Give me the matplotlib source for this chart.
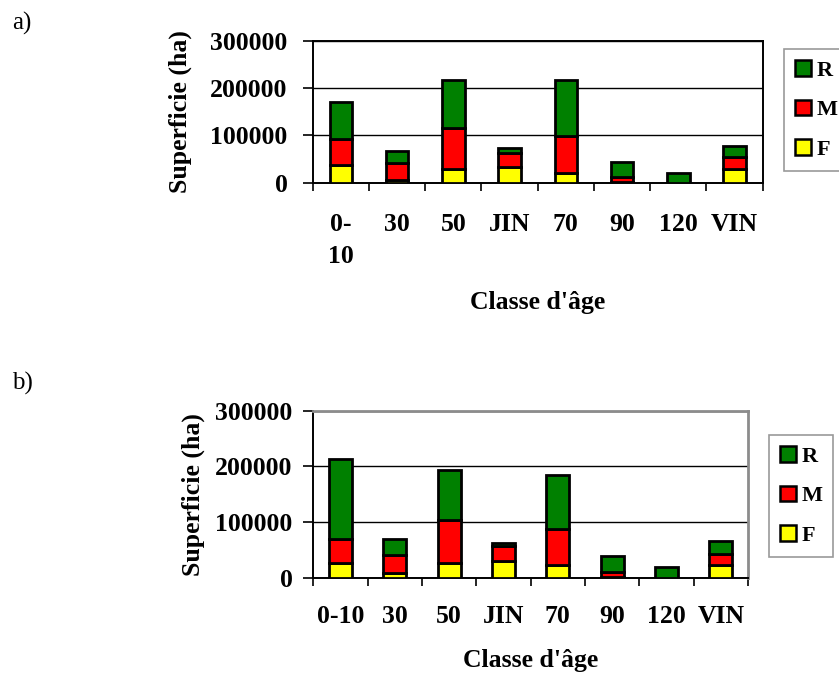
import numpy as np
import matplotlib
matplotlib.use("Agg")
import matplotlib.pyplot as plt

# Data (surface in ha per age class)
classes_a = ["0-\n10", "30", "50", "JIN", "70", "90", "120", "VIN"]
classes_b = ["0-10", "30", "50", "JIN", "70", "90", "120", "VIN"]

# panel a) per-layer values (F bottom, M middle, R top)
F_a = [37000, 6000, 28000, 33000, 20000, 1000, 0, 28000]
M_a = [56000, 35000, 87000, 30000, 78000, 12000, 0, 27000]
R_a = [78000, 27000, 103000, 10000, 120000, 30000, 21000, 22000]

# panel b)
F_b = [27000, 8000, 27000, 30000, 23000, 2000, 0, 22000]
M_b = [42000, 32000, 77000, 27000, 64000, 9000, 0, 20000]
R_b = [145000, 29000, 89000, 5000, 97000, 28000, 20000, 24000]

yticks = [0, 100000, 200000, 300000]
colors = {"F": "#FFFF00", "M": "#FF0000", "R": "#008000"}

plt.rcParams["font.family"] = ["Liberation Serif", "DejaVu Serif"]
plt.rcParams["font.weight"] = "bold"

fig = plt.figure(figsize=(8.39, 6.75), dpi=100)
W, H = 839.0, 675.0
FS = 18.5


def make_axes(left, top, right, bottom):
    return fig.add_axes([left / W, 1 - bottom / H, (right - left) / W, (bottom - top) / H])


def draw_panel(ax, labels, F, M, R, width, xpad, ypad, ylab_x, xlab_y, gray_frame):
    x = np.arange(len(labels))
    F = np.array(F)
    M = np.array(M)
    R = np.array(R)
    kw = dict(width=width, edgecolor="black", linewidth=2.0, zorder=3)
    bf = ax.bar(x, F, color=colors["F"], label="F", **kw)
    bm = ax.bar(x, M, bottom=F, color=colors["M"], label="M", **kw)
    br = ax.bar(x, R, bottom=F + M, color=colors["R"], label="R", **kw)

    ax.set_xlim(-0.5, len(labels) - 0.5)
    ax.set_ylim(0, 300000)
    ax.set_yticks(yticks, [str(v) for v in yticks])
    ax.set_xticks(x, labels)
    ax.set_xticks(np.arange(len(labels) + 1) - 0.5, minor=True)
    ax.tick_params(axis="x", which="major", length=0, pad=xpad, labelsize=FS)
    ax.tick_params(axis="x", which="minor", length=6, width=1.2, direction="out")
    ax.tick_params(axis="y", length=7, width=1.2, direction="out", pad=ypad, labelsize=FS)

    ax.yaxis.grid(True, color="black", linewidth=1.0)
    ax.set_axisbelow(True)

    for s in ax.spines.values():
        s.set_linewidth(1.4)
        s.set_color("black")
    if gray_frame:
        ax.spines["top"].set_color("#8c8c8c")
        ax.spines["right"].set_color("#8c8c8c")
        ax.spines["top"].set_linewidth(2)
        ax.spines["right"].set_linewidth(2)

    ax.set_ylabel("Superficie (ha)", fontsize=FS, fontweight="bold")
    ax.yaxis.label.set_va("center")
    ax.yaxis.set_label_coords(ylab_x, 0.5)
    ax.set_xlabel("Classe d'âge", fontsize=FS, fontweight="bold")
    ax.xaxis.label.set_va("center")
    ax.xaxis.set_label_coords(0.5, xlab_y)
    return [br, bm, bf]


# a)
ax1 = make_axes(312.7, 41, 762.7, 182.7)
h1 = draw_panel(ax1, classes_a, F_a, M_a, R_a, 0.40, 22, 11, -0.295, -0.842, False)
ax1.get_xticklabels()[0].set_linespacing(1.5)

# b)
ax2 = make_axes(313.3, 410.7, 748, 577.7)
h2 = draw_panel(ax2, classes_b, F_b, M_b, R_b, 0.42, 20, 8, -0.277, -0.493, True)

for handles, anchor in [(h1, (784 / W, 1 - 49 / H)), (h2, (769 / W, 1 - 435 / H))]:
    leg = fig.legend(handles, ["R", "M", "F"], loc="upper left", bbox_to_anchor=anchor,
                     borderaxespad=0, fancybox=False, frameon=True,
                     prop={"family": "Liberation Serif", "weight": "bold", "size": 16},
                     handlelength=0.7, handleheight=0.7, handletextpad=0.25,
                     labelspacing=0.85, borderpad=0.5)
    leg.get_frame().set_edgecolor("#808080")
    leg.get_frame().set_linewidth(1.2)
    for p in leg.get_patches():
        p.set_edgecolor("black")
        p.set_linewidth(1.8)

fig.text(12 / W, 1 - 23 / H, "a)", fontsize=18, fontweight="normal", va="center", ha="left")
fig.text(12 / W, 1 - 383 / H, "b)", fontsize=18, fontweight="normal", va="center", ha="left")

fig.savefig("out.png", dpi=100, facecolor="white")
